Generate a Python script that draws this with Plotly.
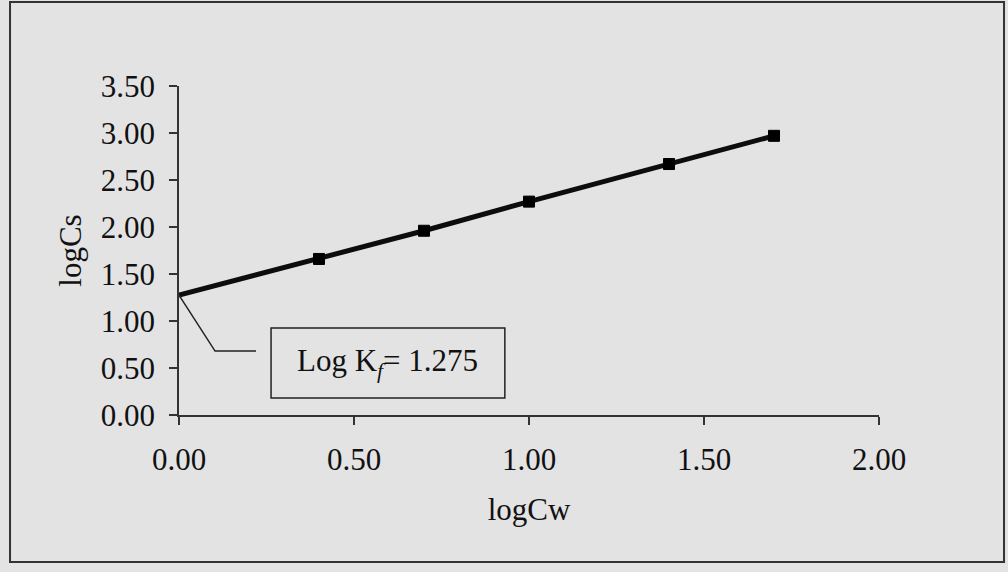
import plotly.graph_objects as go

# Freundlich isotherm: log of sorbed vs. log of aqueous concentration
log_cw = [0.0, 0.40, 0.70, 1.00, 1.40, 1.70]
log_cs = [1.275, 1.66, 1.96, 2.27, 2.67, 2.97]
marker_sizes = [0, 11, 11, 11, 11, 11]  # intercept point is drawn without a marker

x_ticks = [0.0, 0.5, 1.0, 1.5, 2.0]
y_ticks = [0.0, 0.5, 1.0, 1.5, 2.0, 2.5, 3.0, 3.5]
log_kf = 1.275

FONT = "Liberation Serif, Times New Roman, serif"
INK = "#111111"
BG = "#e3e3e3"

fig = go.Figure()
fig.add_trace(go.Scatter(
    x=log_cw, y=log_cs,
    mode="lines+markers",
    line=dict(color="#0d0d0d", width=5),
    marker=dict(symbol="square", size=marker_sizes, color="#000000",
                opacity=1, line=dict(color="#000000", width=1)),
    showlegend=False,
    hoverinfo="skip",
))

axis_common = dict(
    showline=True, linecolor="#333333", linewidth=1.5,
    ticks="outside", ticklen=8, tickwidth=1.5, tickcolor="#333333",
    showgrid=False, zeroline=False,
    tickformat=".2f",
    tickfont=dict(family=FONT, size=31, color=INK),
    title_font=dict(family=FONT, size=31, color=INK),
)

fig.update_layout(
    width=1008, height=572,
    margin=dict(l=179, r=129, t=86, b=157),
    paper_bgcolor=BG, plot_bgcolor=BG,
    xaxis=dict(range=[0, 2], tickvals=x_ticks, title_text="logCw",
               ticklabelstandoff=8, title_standoff=22, **axis_common),
    yaxis=dict(range=[0, 3.5], tickvals=y_ticks, title_text="logCs",
               ticklabelstandoff=8, title_standoff=10, **axis_common),
    shapes=[
        # outer chart frame
        dict(type="rect", xref="paper", yref="paper",
             x0=-0.2414, x1=1.1786, y0=-0.4468, y1=1.2553,
             line=dict(color="#333333", width=2)),
        # callout leader from the intercept
        dict(type="path", xref="x", yref="y",
             path=f"M {log_cw[0]},{log_kf} L 0.103,0.68 L 0.22,0.68",
             line=dict(color="#222222", width=1.5)),
        # callout box
        dict(type="rect", xref="x", yref="y",
             x0=0.263, x1=0.931, y0=0.18, y1=0.925,
             line=dict(color="#222222", width=1.5)),
    ],
    annotations=[
        dict(x=0.597, y=0.553, xref="x", yref="y", showarrow=False,
             text=f"Log K<sub><i>f</i></sub>= {log_kf:.3f}",
             font=dict(family=FONT, size=31, color=INK)),
    ],
)

fig.write_html("out.html")
